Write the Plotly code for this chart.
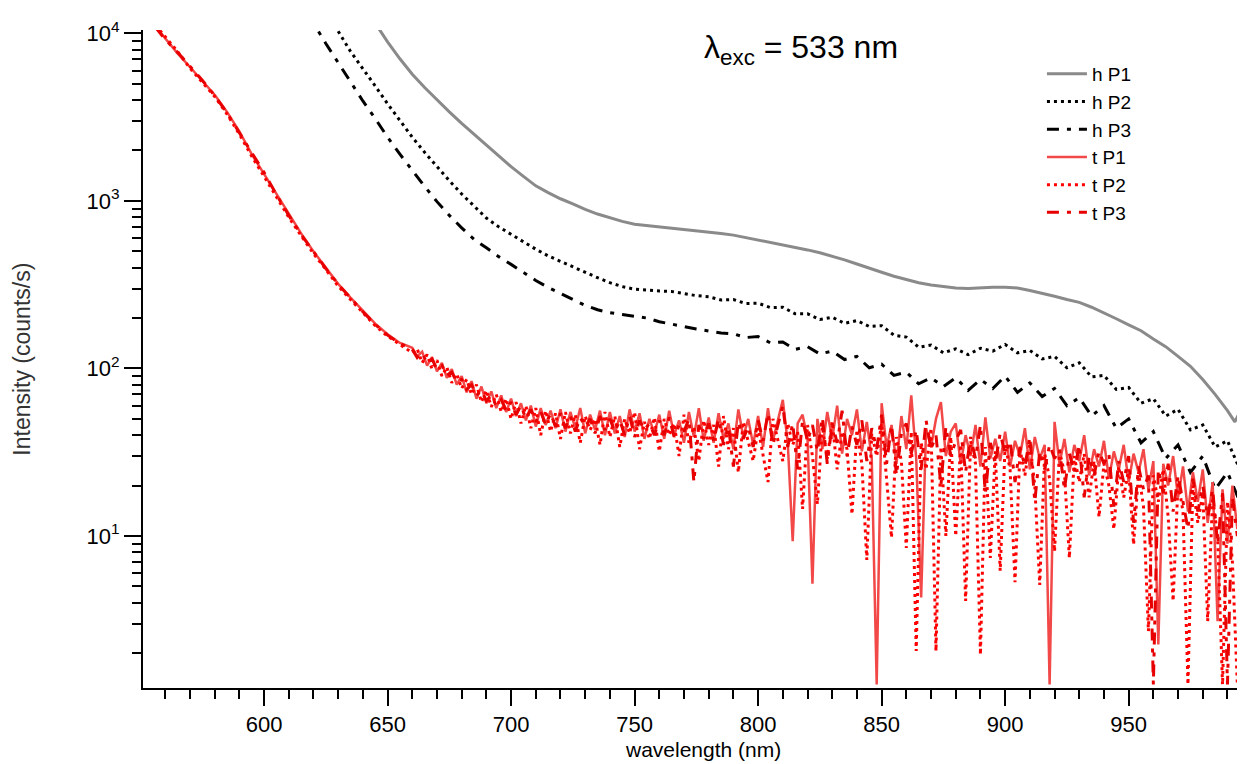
import plotly.graph_objects as go

# ---- data ----
# h series (wavelength grid in nm, intensity in counts/s)
wl_h1 = [645, 650, 655, 660, 665, 670, 675, 680, 685, 690, 695, 700, 705, 710, 715, 720, 725, 730,
         735, 740, 745, 750, 755, 760, 765, 770, 775, 780, 785, 790, 795, 800, 805, 810, 815, 820,
         825, 830, 835, 840, 845, 850, 855, 860, 865, 870, 875, 880, 885, 890, 895, 900, 905, 910,
         915, 920, 925, 930, 935, 940, 945, 950, 955, 960, 965, 970, 975, 980, 985, 990, 993, 995, 997]
h_p1 = [11500, 8900, 7050, 5700, 4750, 4000, 3400, 2900, 2500, 2150, 1850, 1600, 1400, 1230, 1120,
        1030, 960, 890, 835, 790, 755, 725, 712, 700, 690, 680, 668, 655, 640, 625, 605, 585, 565,
        545, 527, 510, 490, 468, 445, 420, 395, 375, 355, 340, 325, 315, 308, 302, 300, 303, 305,
        305, 302, 292, 282, 270, 258, 248, 232, 215, 198, 182, 168, 150, 135, 118, 103, 86, 70, 56,
        48, 55, 47]

wl_h2 = [625, 630, 635, 640, 645, 650, 655, 660, 665, 670, 675, 680, 685, 690, 695, 700, 705, 710,
         715, 720, 725, 730, 735, 740, 745, 750, 755, 760, 765, 770, 775, 780, 785, 790, 795, 800,
         805, 810, 815, 820, 825, 830, 835, 840, 845, 850, 855, 860, 865, 870, 875, 880, 885, 890,
         895, 900, 905, 910, 915, 920, 925, 930, 935, 940, 945, 950, 955, 960, 965, 970, 975, 980,
         985, 990, 995, 997]
h_p2 = [13000, 10300, 7800, 6200, 4850, 3800, 3000, 2400, 1950, 1600, 1320, 1100, 930, 790, 700, 630,
        570, 515, 470, 435, 405, 375, 348, 325, 308, 297, 292, 290, 288, 280, 272, 268, 256, 258,
        244, 245, 231, 232, 212, 212, 196, 202, 186, 193, 178, 180, 158, 154, 134, 138, 124, 131,
        121, 132, 127, 139, 124, 128, 114, 118, 101, 108, 89, 91, 75, 77, 62, 66, 52, 57, 43, 46,
        34, 37, 25, 30]

wl_h3 = [618, 620, 625, 630, 635, 640, 645, 650, 655, 660, 665, 670, 675, 680, 685, 690, 695, 700,
         705, 710, 715, 720, 725, 730, 735, 740, 745, 750, 755, 760, 765, 770, 775, 780, 785, 790,
         795, 800, 805, 810, 815, 820, 825, 830, 835, 840, 845, 850, 855, 860, 865, 870, 875, 880,
         885, 890, 895, 900, 905, 910, 915, 920, 925, 930, 935, 940, 945, 950, 955, 960, 965, 970,
         975, 980, 985, 990, 995, 997]
h_p3 = [13000, 11500, 8700, 6700, 5100, 3950, 3100, 2400, 1900, 1520, 1220, 990, 820, 690, 590, 525,
        465, 418, 375, 335, 305, 280, 257, 238, 224, 215, 210, 206, 200, 190, 183, 178, 172, 168,
        163, 161, 153, 155, 142, 144, 130, 135, 122, 127, 113, 118, 101, 106, 91, 95, 81, 88, 78,
        88, 74, 86, 76, 90, 72, 82, 68, 76, 60, 67, 52, 60, 44, 50, 36, 42, 29, 35, 24, 30, 19, 24,
        16, 21]

# t series share one wavelength grid: coarse on the steep part, 2 nm steps after 660 nm
wl_t = [556, 560, 565, 570, 575, 580, 585, 590, 595, 600, 605, 610, 615, 620, 625, 630, 635, 640,
        645, 650, 655] + list(range(660, 997, 2))

t_p1 = [11000, 9300, 7600, 6300, 5200, 4300, 3400, 2600, 1900, 1450, 1100, 830, 640, 500, 400, 320,
        265, 220, 185, 160, 142,
        133, 118, 126, 104, 117, 96, 108, 88, 99, 80,
        90, 72, 84, 66, 78, 62, 73, 58, 69, 55,
        66, 52, 62, 49, 60, 45, 58, 46, 56, 44,
        57, 42, 55, 44, 58, 41, 53, 43, 56, 40,
        55, 41, 52, 39, 57, 42, 54, 38, 50, 41,
        53, 38, 56, 40, 49, 36, 55, 39, 58, 37,
        51, 36, 54, 38, 47, 33, 57, 39, 50, 35,
        52, 34, 58, 37, 49, 65, 36, 9.3, 47, 53,
        38, 5.2, 50, 33, 55, 38, 60, 31, 50, 40,
        57, 32, 48, 29, 1.3, 62, 34, 46, 27, 52,
        33, 69, 29, 4.3, 44, 34, 50, 63, 30, 42,
        47, 27, 40, 30, 46, 26, 51, 29, 38, 28,
        42, 26, 37, 30, 44, 25, 39, 29, 35, 1.3,
        48, 27, 38, 24, 35, 28, 40, 23, 33, 26,
        37, 22, 32, 25, 35, 21, 31, 24, 33, 19,
        28, 2.25, 27, 20, 30, 17, 26, 14, 24, 16,
        25, 12, 21, 3.1, 19, 9, 20, 11, 15]

t_p2 = [11200, 9500, 7800, 6200, 5100, 4200, 3300, 2500, 1850, 1400, 1060, 800, 620, 485, 390, 310,
        258, 215, 180, 156, 139,
        124, 131, 108, 121, 99, 112, 90, 102, 82, 93,
        76, 86, 70, 80, 63, 74, 59, 70, 55, 66,
        50, 63, 47, 60, 44, 58, 40, 56, 42, 54,
        38, 55, 41, 53, 36, 52, 43, 50, 35, 55,
        39, 52, 34, 50, 41, 55, 33, 48, 38, 51,
        32, 50, 40, 47, 30, 53, 36, 45, 28, 49,
        35, 46, 26, 52, 33, 44, 24, 48, 37, 28,
        44, 30, 21, 50, 38, 28, 47, 35, 42, 14.5,
        46, 30, 15.5, 45, 29, 48, 25, 42, 33, 13.5,
        43, 27, 7.2, 41, 30, 47, 22, 9.8, 39, 28,
        8.5, 42, 2.06, 36, 25, 44, 2.06, 34, 10, 39,
        10, 35, 4.1, 37, 27, 1.96, 34, 7.4, 32, 6.2,
        35, 25, 5.3, 33, 23, 36, 20, 5.1, 31, 22,
        8.1, 32, 24, 7.4, 30, 21, 31, 17, 28, 13,
        27, 20, 11, 26, 17, 25, 8.9, 24, 15, 2.7,
        23, 16, 25, 13, 4.1, 21, 14, 1.3, 20, 12,
        18, 3.1, 17, 10, 1.3, 16, 7, 1.3, 12]

t_p3 = [10900, 9200, 7700, 6400, 5250, 4250, 3350, 2550, 1950, 1480, 1090, 820, 630, 495, 395, 318,
        262, 218, 183, 158, 141,
        130, 116, 124, 107, 114, 99, 104, 91, 95, 83,
        86, 75, 80, 69, 74, 64, 69, 60, 65, 56,
        63, 53, 60, 50, 57, 48, 55, 46, 54, 45,
        54, 44, 52, 42, 51, 45, 50, 41, 52, 43,
        50, 42, 49, 40, 52, 39, 49, 43, 47, 40,
        49, 40, 51, 39, 46, 42, 50, 21, 46, 38,
        47, 37, 50, 35, 45, 26, 48, 38, 45, 34,
        49, 37, 54, 35, 45, 60, 34, 47, 25, 49,
        37, 46, 32, 51, 27, 47, 36, 56, 30, 45,
        35, 49, 28, 44, 33, 53, 27, 46, 23, 41,
        47, 31, 43, 25, 49, 33, 40, 20, 45, 30,
        37, 43, 24, 39, 29, 46, 18, 36, 27, 41,
        31, 37, 21, 34, 26, 39, 16, 32, 25, 35,
        29, 33, 19, 31, 24, 35, 17, 30, 23, 32,
        27, 31, 15, 28, 21, 30, 12, 26, 19, 23,
        1.3, 25, 18, 27, 14, 23, 16, 11, 22, 14,
        20, 13, 19, 9, 18, 1.3, 17, 10, 14]

y_tickvals = [10, 100, 1000, 10000]
y_ticktext = ["10<sup>1</sup>", "10<sup>2</sup>", "10<sup>3</sup>", "10<sup>4</sup>"]

FONT = "Liberation Sans, Arial, Helvetica, sans-serif"

fig = go.Figure()
fig.add_trace(go.Scatter(x=wl_h1, y=h_p1, name="h P1", mode="lines",
                         line=dict(color="#8a8a8a", width=3)))
fig.add_trace(go.Scatter(x=wl_h2, y=h_p2, name="h P2", mode="lines",
                         line=dict(color="black", width=3, dash="3px,4px")))
fig.add_trace(go.Scatter(x=wl_h3, y=h_p3, name="h P3", mode="lines",
                         line=dict(color="black", width=3, dash="12px,8px,4px,8px")))
fig.add_trace(go.Scatter(x=wl_t, y=t_p1, name="t P1", mode="lines",
                         line=dict(color="#f24848", width=2.5)))
fig.add_trace(go.Scatter(x=wl_t, y=t_p2, name="t P2", mode="lines",
                         line=dict(color="#ff0000", width=3, dash="3px,4px")))
fig.add_trace(go.Scatter(x=wl_t, y=t_p3, name="t P3", mode="lines",
                         line=dict(color="#e80000", width=3, dash="12px,8px,4px,8px")))

fig.update_layout(
    width=1245, height=764,
    margin=dict(l=135, r=7, t=22, b=84),
    paper_bgcolor="white", plot_bgcolor="white",
    font=dict(family=FONT, color="black", size=22),
    showlegend=True,
    legend=dict(x=0.815, y=0.962, xanchor="left", yanchor="top", itemwidth=40,
                bgcolor="rgba(0,0,0,0)", font=dict(size=19), tracegroupgap=0),
    annotations=[
        dict(text="λ<sub>exc</sub> = 533 nm", x=0.597, y=0.97, xref="paper", yref="paper",
             xanchor="center", yanchor="middle", showarrow=False,
             font=dict(size=32, family=FONT)),
        # axis titles placed by hand so they sit where the reference has them
        dict(text="wavelength (nm)", x=0.508, y=-0.094, xref="paper", yref="paper",
             xanchor="center", yanchor="middle", showarrow=False,
             font=dict(size=21, family=FONT)),
        dict(text="Intensity (counts/s)", x=-0.11, y=0.5, xref="paper", yref="paper",
             xanchor="center", yanchor="middle", showarrow=False, textangle=-90,
             font=dict(size=23, family=FONT, color="#333333")),
    ],
)

fig.update_xaxes(
    range=[551, 997.5], showgrid=False, zeroline=False,
    showline=True, linecolor="black", linewidth=2,
    ticks="outside", ticklen=16, tickwidth=2, tickcolor="black",
    dtick=50, tick0=600,
    minor=dict(ticks="outside", ticklen=9, tickwidth=2, tickcolor="black", dtick=10),
)
fig.update_yaxes(
    type="log", range=[0.093, 4.02], showgrid=False, zeroline=False,
    showline=True, linecolor="black", linewidth=2,
    ticks="outside", ticklen=17, tickwidth=2, tickcolor="black",
    tickvals=y_tickvals, ticktext=y_ticktext,
    minor=dict(ticks="outside", ticklen=9, tickwidth=2, tickcolor="black", dtick="D1"),
)

fig.write_html("out.html")
